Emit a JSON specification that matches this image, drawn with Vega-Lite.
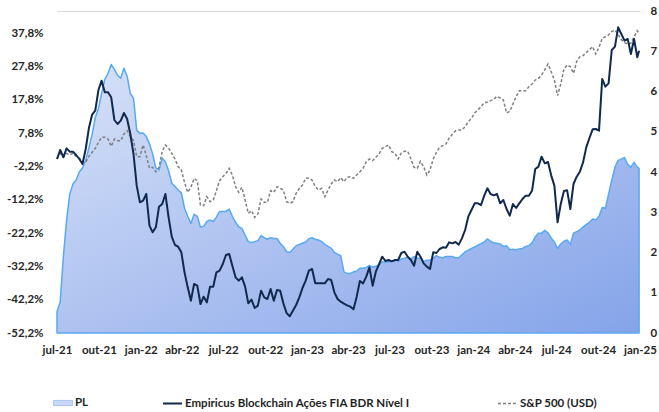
{
  "$schema": "https://vega.github.io/schema/vega-lite/v6.json",
  "width": 583,
  "height": 322,
  "autosize": {"type": "none"},
  "padding": {"left": 57, "top": 11, "right": 19, "bottom": 79},
  "background": "white",
  "config": {
    "view": {"stroke": null},
    "font": "Lato",
    "axis": {"labelFont": "Lato", "labelFontWeight": "bold", "labelFontSize": 11.5, "labelColor": "#262626", "domain": false, "ticks": false, "tickSize": 0, "grid": false, "title": null, "labelFlush": false, "labelOverlap": false},
    "legend": {"labelFont": "Lato", "labelFontWeight": "bold", "labelFontSize": 11.5, "labelColor": "#1f1f1f", "padding": 0, "title": null, "orient": "none", "labelOffset": 2, "labelLimit": 400}
  },
  "data": {"values": [
    {"d":"2021-07-01","fund":0.0,"sp":0.0,"pl":0.53},
    {"d":"2021-07-08","fund":2.7,"sp":1.7,"pl":0.78},
    {"d":"2021-07-15","fund":0.5,"sp":0.7,"pl":1.9},
    {"d":"2021-07-22","fund":3.2,"sp":1.7,"pl":2.8},
    {"d":"2021-07-29","fund":2.2,"sp":1.2,"pl":3.45},
    {"d":"2021-08-05","fund":2.2,"sp":1.7,"pl":3.7},
    {"d":"2021-08-12","fund":1.2,"sp":0.8,"pl":3.8},
    {"d":"2021-08-19","fund":0.0,"sp":0.3,"pl":4.0},
    {"d":"2021-08-26","fund":-1.5,"sp":-1.0,"pl":4.1},
    {"d":"2021-09-02","fund":3.0,"sp":-1.0,"pl":4.3},
    {"d":"2021-09-09","fund":9.2,"sp":0.8,"pl":4.6},
    {"d":"2021-09-16","fund":13.3,"sp":2.0,"pl":4.93},
    {"d":"2021-09-23","fund":14.5,"sp":3.2,"pl":5.35},
    {"d":"2021-09-30","fund":20.7,"sp":5.0,"pl":5.58},
    {"d":"2021-10-07","fund":23.5,"sp":6.5,"pl":5.95},
    {"d":"2021-10-14","fund":20.0,"sp":6.5,"pl":6.3},
    {"d":"2021-10-21","fund":20.0,"sp":6.0,"pl":6.45},
    {"d":"2021-10-28","fund":18.5,"sp":3.8,"pl":6.67},
    {"d":"2021-11-04","fund":11.7,"sp":6.0,"pl":6.55},
    {"d":"2021-11-11","fund":10.5,"sp":5.5,"pl":6.4},
    {"d":"2021-11-18","fund":11.5,"sp":5.5,"pl":6.33},
    {"d":"2021-11-25","fund":13.8,"sp":7.5,"pl":6.58},
    {"d":"2021-12-02","fund":12.0,"sp":8.5,"pl":6.38},
    {"d":"2021-12-09","fund":7.5,"sp":6.7,"pl":5.95},
    {"d":"2021-12-16","fund":1.5,"sp":5.5,"pl":5.83},
    {"d":"2021-12-23","fund":-8.0,"sp":0.7,"pl":5.04},
    {"d":"2021-12-30","fund":-13.0,"sp":0.7,"pl":4.96},
    {"d":"2022-01-06","fund":-12.5,"sp":4.2,"pl":4.97},
    {"d":"2022-01-13","fund":-10.5,"sp":1.0,"pl":4.88},
    {"d":"2022-01-20","fund":-20.0,"sp":-2.7,"pl":4.7},
    {"d":"2022-01-27","fund":-22.0,"sp":-2.5,"pl":4.45},
    {"d":"2022-02-03","fund":-20.5,"sp":-3.8,"pl":4.1},
    {"d":"2022-02-10","fund":-14.3,"sp":-2.5,"pl":4.05},
    {"d":"2022-02-17","fund":-13.5,"sp":2.3,"pl":4.35},
    {"d":"2022-02-24","fund":-10.5,"sp":4.2,"pl":4.25},
    {"d":"2022-03-03","fund":-17.5,"sp":3.3,"pl":4.03},
    {"d":"2022-03-10","fund":-23.3,"sp":1.7,"pl":3.72},
    {"d":"2022-03-17","fund":-25.8,"sp":0.0,"pl":3.64},
    {"d":"2022-03-24","fund":-26.3,"sp":-2.3,"pl":3.55},
    {"d":"2022-03-31","fund":-28.0,"sp":-3.3,"pl":3.48},
    {"d":"2022-04-07","fund":-34.0,"sp":-7.0,"pl":3.1},
    {"d":"2022-04-14","fund":-38.5,"sp":-10.0,"pl":2.9},
    {"d":"2022-04-21","fund":-42.5,"sp":-8.5,"pl":2.72},
    {"d":"2022-04-28","fund":-37.5,"sp":-5.8,"pl":2.95},
    {"d":"2022-05-05","fund":-38.0,"sp":-6.5,"pl":2.9},
    {"d":"2022-05-12","fund":-43.5,"sp":-13.8,"pl":2.63},
    {"d":"2022-05-19","fund":-41.3,"sp":-14.0,"pl":2.65},
    {"d":"2022-05-26","fund":-43.0,"sp":-11.3,"pl":2.77},
    {"d":"2022-06-02","fund":-38.3,"sp":-12.8,"pl":2.81},
    {"d":"2022-06-09","fund":-38.3,"sp":-12.3,"pl":2.77},
    {"d":"2022-06-16","fund":-34.0,"sp":-9.5,"pl":2.88},
    {"d":"2022-06-23","fund":-33.5,"sp":-6.5,"pl":3.02},
    {"d":"2022-06-30","fund":-31.5,"sp":-5.3,"pl":3.02},
    {"d":"2022-07-07","fund":-28.8,"sp":-4.3,"pl":3.02},
    {"d":"2022-07-14","fund":-28.5,"sp":-2.8,"pl":3.08},
    {"d":"2022-07-21","fund":-32.0,"sp":-4.8,"pl":2.9},
    {"d":"2022-07-28","fund":-35.5,"sp":-8.3,"pl":2.75},
    {"d":"2022-08-04","fund":-36.5,"sp":-10.0,"pl":2.64},
    {"d":"2022-08-11","fund":-35.5,"sp":-8.5,"pl":2.6},
    {"d":"2022-08-18","fund":-38.3,"sp":-12.3,"pl":2.43},
    {"d":"2022-08-25","fund":-43.3,"sp":-16.3,"pl":2.27},
    {"d":"2022-09-01","fund":-42.2,"sp":-15.5,"pl":2.25},
    {"d":"2022-09-08","fund":-44.7,"sp":-17.5,"pl":2.27},
    {"d":"2022-09-15","fund":-44.0,"sp":-16.5,"pl":2.29},
    {"d":"2022-09-22","fund":-39.5,"sp":-12.0,"pl":2.42},
    {"d":"2022-09-29","fund":-41.5,"sp":-13.0,"pl":2.37},
    {"d":"2022-10-06","fund":-42.0,"sp":-13.0,"pl":2.33},
    {"d":"2022-10-13","fund":-39.0,"sp":-9.5,"pl":2.37},
    {"d":"2022-10-20","fund":-42.5,"sp":-10.0,"pl":2.35},
    {"d":"2022-10-27","fund":-39.3,"sp":-8.3,"pl":2.35},
    {"d":"2022-11-03","fund":-39.5,"sp":-8.8,"pl":2.23},
    {"d":"2022-11-10","fund":-43.3,"sp":-9.3,"pl":2.15},
    {"d":"2022-11-17","fund":-46.2,"sp":-12.8,"pl":2.02},
    {"d":"2022-11-24","fund":-47.2,"sp":-13.3,"pl":2.0},
    {"d":"2022-12-01","fund":-45.5,"sp":-12.8,"pl":2.08},
    {"d":"2022-12-08","fund":-43.8,"sp":-10.3,"pl":2.17},
    {"d":"2022-12-15","fund":-41.5,"sp":-8.8,"pl":2.2},
    {"d":"2022-12-22","fund":-38.7,"sp":-7.8,"pl":2.23},
    {"d":"2022-12-29","fund":-36.5,"sp":-5.8,"pl":2.26},
    {"d":"2023-01-05","fund":-33.5,"sp":-5.7,"pl":2.34},
    {"d":"2023-01-12","fund":-33.0,"sp":-6.3,"pl":2.37},
    {"d":"2023-01-19","fund":-37.3,"sp":-8.3,"pl":2.33},
    {"d":"2023-01-26","fund":-37.3,"sp":-9.3,"pl":2.31},
    {"d":"2023-02-02","fund":-37.3,"sp":-8.8,"pl":2.27},
    {"d":"2023-02-09","fund":-37.3,"sp":-11.3,"pl":2.2},
    {"d":"2023-02-16","fund":-36.0,"sp":-9.3,"pl":2.15},
    {"d":"2023-02-23","fund":-36.3,"sp":-7.5,"pl":2.11},
    {"d":"2023-03-02","fund":-40.0,"sp":-6.3,"pl":2.0},
    {"d":"2023-03-09","fund":-42.0,"sp":-6.8,"pl":1.96},
    {"d":"2023-03-16","fund":-42.8,"sp":-5.6,"pl":1.92},
    {"d":"2023-03-23","fund":-43.4,"sp":-6.8,"pl":1.52},
    {"d":"2023-03-30","fund":-43.9,"sp":-5.5,"pl":1.48},
    {"d":"2023-04-06","fund":-44.3,"sp":-5.3,"pl":1.48},
    {"d":"2023-04-13","fund":-45.1,"sp":-5.8,"pl":1.52},
    {"d":"2023-04-20","fund":-41.3,"sp":-4.8,"pl":1.54},
    {"d":"2023-04-27","fund":-36.6,"sp":-3.8,"pl":1.61},
    {"d":"2023-05-04","fund":-37.3,"sp":-2.8,"pl":1.61},
    {"d":"2023-05-11","fund":-35.3,"sp":-0.8,"pl":1.63},
    {"d":"2023-05-18","fund":-32.5,"sp":0.0,"pl":1.68},
    {"d":"2023-05-25","fund":-38.0,"sp":-0.5,"pl":1.64},
    {"d":"2023-06-01","fund":-33.8,"sp":0.5,"pl":1.66},
    {"d":"2023-06-08","fund":-31.6,"sp":1.5,"pl":1.7},
    {"d":"2023-06-15","fund":-29.3,"sp":3.2,"pl":1.77},
    {"d":"2023-06-22","fund":-30.6,"sp":3.7,"pl":1.76},
    {"d":"2023-06-29","fund":-30.3,"sp":4.2,"pl":1.77},
    {"d":"2023-07-06","fund":-30.7,"sp":2.2,"pl":1.78},
    {"d":"2023-07-13","fund":-30.3,"sp":1.7,"pl":1.81},
    {"d":"2023-07-20","fund":-30.3,"sp":0.0,"pl":1.78},
    {"d":"2023-07-27","fund":-28.2,"sp":1.8,"pl":1.84},
    {"d":"2023-08-03","fund":-27.8,"sp":2.3,"pl":1.86},
    {"d":"2023-08-10","fund":-29.3,"sp":2.3,"pl":1.88},
    {"d":"2023-08-17","fund":-30.3,"sp":0.0,"pl":1.84},
    {"d":"2023-08-24","fund":-32.0,"sp":-2.5,"pl":1.9},
    {"d":"2023-08-31","fund":-27.8,"sp":-2.8,"pl":1.86},
    {"d":"2023-09-07","fund":-29.3,"sp":-0.7,"pl":1.86},
    {"d":"2023-09-14","fund":-31.3,"sp":-2.3,"pl":1.78},
    {"d":"2023-09-21","fund":-32.3,"sp":-4.8,"pl":1.81},
    {"d":"2023-09-28","fund":-33.0,"sp":-3.3,"pl":1.81},
    {"d":"2023-10-05","fund":-28.0,"sp":0.0,"pl":1.86},
    {"d":"2023-10-12","fund":-28.2,"sp":2.0,"pl":1.92},
    {"d":"2023-10-19","fund":-27.0,"sp":3.5,"pl":1.88},
    {"d":"2023-10-26","fund":-26.5,"sp":4.0,"pl":1.87},
    {"d":"2023-11-02","fund":-26.6,"sp":4.5,"pl":1.9},
    {"d":"2023-11-09","fund":-25.0,"sp":6.3,"pl":1.9},
    {"d":"2023-11-16","fund":-25.3,"sp":7.4,"pl":1.9},
    {"d":"2023-11-23","fund":-24.9,"sp":8.5,"pl":1.87},
    {"d":"2023-11-30","fund":-25.7,"sp":8.7,"pl":1.87},
    {"d":"2023-12-07","fund":-23.8,"sp":8.7,"pl":1.94},
    {"d":"2023-12-14","fund":-21.3,"sp":9.7,"pl":2.02},
    {"d":"2023-12-21","fund":-17.3,"sp":11.2,"pl":2.06},
    {"d":"2023-12-28","fund":-15.3,"sp":12.2,"pl":2.1},
    {"d":"2024-01-04","fund":-13.3,"sp":13.8,"pl":2.14},
    {"d":"2024-01-11","fund":-13.3,"sp":14.7,"pl":2.18},
    {"d":"2024-01-18","fund":-13.8,"sp":15.7,"pl":2.22},
    {"d":"2024-01-25","fund":-11.0,"sp":16.9,"pl":2.26},
    {"d":"2024-02-01","fund":-8.8,"sp":17.0,"pl":2.34},
    {"d":"2024-02-08","fund":-10.5,"sp":17.5,"pl":2.28},
    {"d":"2024-02-15","fund":-10.9,"sp":17.9,"pl":2.24},
    {"d":"2024-02-22","fund":-10.5,"sp":18.8,"pl":2.23},
    {"d":"2024-02-29","fund":-13.3,"sp":18.3,"pl":2.21},
    {"d":"2024-03-07","fund":-12.3,"sp":17.7,"pl":2.15},
    {"d":"2024-03-14","fund":-15.0,"sp":13.8,"pl":2.17},
    {"d":"2024-03-21","fund":-17.0,"sp":14.3,"pl":2.07},
    {"d":"2024-03-28","fund":-13.5,"sp":16.5,"pl":2.08},
    {"d":"2024-04-04","fund":-14.7,"sp":18.7,"pl":2.07},
    {"d":"2024-04-11","fund":-13.3,"sp":20.5,"pl":2.09},
    {"d":"2024-04-18","fund":-12.0,"sp":20.5,"pl":2.1},
    {"d":"2024-04-25","fund":-11.0,"sp":20.5,"pl":2.15},
    {"d":"2024-05-02","fund":-11.0,"sp":21.7,"pl":2.17},
    {"d":"2024-05-09","fund":-9.5,"sp":22.5,"pl":2.24},
    {"d":"2024-05-16","fund":-3.0,"sp":23.7,"pl":2.39},
    {"d":"2024-05-23","fund":-2.3,"sp":24.2,"pl":2.48},
    {"d":"2024-05-30","fund":0.7,"sp":25.2,"pl":2.48},
    {"d":"2024-06-06","fund":-1.3,"sp":26.8,"pl":2.55},
    {"d":"2024-06-13","fund":-0.9,"sp":28.5,"pl":2.49},
    {"d":"2024-06-20","fund":-4.9,"sp":26.2,"pl":2.36},
    {"d":"2024-06-27","fund":-8.0,"sp":23.7,"pl":2.26},
    {"d":"2024-07-04","fund":-19.0,"sp":19.0,"pl":2.1},
    {"d":"2024-07-11","fund":-13.5,"sp":22.5,"pl":2.21},
    {"d":"2024-07-18","fund":-9.6,"sp":27.0,"pl":2.28},
    {"d":"2024-07-25","fund":-9.4,"sp":28.2,"pl":2.31},
    {"d":"2024-08-01","fund":-15.0,"sp":27.7,"pl":2.2},
    {"d":"2024-08-08","fund":-7.5,"sp":25.7,"pl":2.48},
    {"d":"2024-08-15","fund":-5.3,"sp":29.2,"pl":2.52},
    {"d":"2024-08-22","fund":-3.8,"sp":30.7,"pl":2.56},
    {"d":"2024-08-29","fund":-1.0,"sp":31.0,"pl":2.63},
    {"d":"2024-09-05","fund":3.5,"sp":31.9,"pl":2.7},
    {"d":"2024-09-12","fund":6.3,"sp":32.8,"pl":2.75},
    {"d":"2024-09-19","fund":8.9,"sp":33.7,"pl":2.83},
    {"d":"2024-09-26","fund":9.0,"sp":31.5,"pl":2.81},
    {"d":"2024-10-03","fund":8.5,"sp":33.5,"pl":2.9},
    {"d":"2024-10-10","fund":24.0,"sp":36.2,"pl":3.12},
    {"d":"2024-10-17","fund":21.7,"sp":36.7,"pl":3.1},
    {"d":"2024-10-24","fund":22.7,"sp":37.2,"pl":3.45},
    {"d":"2024-10-31","fund":32.7,"sp":38.2,"pl":3.8},
    {"d":"2024-11-07","fund":33.7,"sp":38.7,"pl":4.12},
    {"d":"2024-11-14","fund":39.5,"sp":37.3,"pl":4.29},
    {"d":"2024-11-21","fund":37.5,"sp":35.8,"pl":4.32},
    {"d":"2024-11-28","fund":35.5,"sp":34.9,"pl":4.36},
    {"d":"2024-12-05","fund":36.0,"sp":34.5,"pl":4.19},
    {"d":"2024-12-12","fund":31.5,"sp":34.7,"pl":4.12},
    {"d":"2024-12-19","fund":36.0,"sp":36.6,"pl":4.24},
    {"d":"2024-12-26","fund":30.5,"sp":38.5,"pl":4.12},
    {"d":"2024-12-30","fund":32.5,"sp":37.7,"pl":4.09}
  ]},
  "encoding": {
    "x": {
      "field": "d", "type": "temporal",
      "scale": {"domain": [{"year": 2021, "month": 7, "date": 1}, {"year": 2025, "month": 1, "date": 1}]},
      "axis": {
        "values": [
          {"year": 2021, "month": 7, "date": 1}, {"year": 2021, "month": 10, "date": 1},
          {"year": 2022, "month": 1, "date": 1}, {"year": 2022, "month": 4, "date": 1},
          {"year": 2022, "month": 7, "date": 1}, {"year": 2022, "month": 10, "date": 1},
          {"year": 2023, "month": 1, "date": 1}, {"year": 2023, "month": 4, "date": 1},
          {"year": 2023, "month": 7, "date": 1}, {"year": 2023, "month": 10, "date": 1},
          {"year": 2024, "month": 1, "date": 1}, {"year": 2024, "month": 4, "date": 1},
          {"year": 2024, "month": 7, "date": 1}, {"year": 2024, "month": 10, "date": 1},
          {"year": 2025, "month": 1, "date": 1}
        ],
        "labelExpr": "['jan','fev','mar','abr','mai','jun','jul','ago','set','out','nov','dez'][month(datum.value)] + '-' + timeFormat(datum.value, '%y')",
        "labelPadding": 11
      }
    }
  },
  "layer": [
    {
      "mark": {
        "type": "area",
        "fill": {"gradient": "linear", "x1": 0, "y1": 0, "x2": 1, "y2": 1, "stops": [{"offset": 0, "color": "#d8e2f8"}, {"offset": 1, "color": "#84a3e9"}]},
        "stroke": "#59a9f2", "strokeWidth": 1.5, "strokeJoin": "round"
      },
      "encoding": {
        "y": {
          "field": "pl", "type": "quantitative",
          "scale": {"domain": [0, 8], "nice": false},
          "axis": {
            "orient": "right", "values": [0, 1, 2, 3, 4, 5, 6, 7, 8], "format": "d", "labelPadding": 10,
            "grid": true, "gridWidth": 1,
            "gridColor": {"condition": {"test": "datum.value == 8", "value": "#d9d9d9"}, "value": "transparent"}
          }
        }
      }
    },
    {
      "transform": [{"filter": "false"}],
      "mark": {"type": "square"},
      "encoding": {
        "fill": {
          "datum": "PL",
          "scale": {"domain": ["PL"], "range": ["#b5c8f3"]},
          "legend": {
            "orient": "none", "legendX": -4, "legendY": 382,
            "symbolType": "M-1,-0.27H1V0.27H-1Z", "symbolSize": 361,
            "symbolStrokeColor": "#7fb0ee", "symbolStrokeWidth": 1,
            "encode": {"symbols": {"update": {"fill": {"value": {"gradient": "linear", "x1": 0, "y1": 0, "x2": 1, "y2": 1, "stops": [{"offset": 0, "color": "#dbe4f9"}, {"offset": 1, "color": "#a3b9ef"}]}}}}}
          }
        }
      }
    },
    {
      "encoding": {
        "y": {
          "type": "quantitative",
          "scale": {"domain": [-52.2, 44.4], "nice": false, "zero": false},
          "axis": {
            "orient": "left",
            "values": [-52.2, -42.2, -32.2, -22.2, -12.2, -2.2, 7.8, 17.8, 27.8, 37.8],
            "labelExpr": "(datum.value < 0 ? '-' : '') + replace(format(abs(datum.value), '.1f'), '.', ',') + '%'",
            "labelPadding": 14
          }
        }
      },
      "layer": [
        {
          "mark": {"type": "line", "strokeDash": [3, 2], "strokeWidth": 1.5, "color": "#808080"},
          "encoding": {
            "y": {
              "field": "sp", "type": "quantitative",
              "scale": {"domain": [-52.2, 44.4], "nice": false, "zero": false},
              "axis": {
                "orient": "left",
                "values": [-52.2, -42.2, -32.2, -22.2, -12.2, -2.2, 7.8, 17.8, 27.8, 37.8],
                "labelExpr": "(datum.value < 0 ? '-' : '') + replace(format(abs(datum.value), '.1f'), '.', ',') + '%'",
                "labelPadding": 14
              }
            },
            "strokeDash": {
              "datum": "S&P 500 (USD)",
              "scale": {"domain": ["S&P 500 (USD)"], "range": [[3, 2]]},
              "legend": {
                "orient": "none", "legendX": 440, "legendY": 382,
                "symbolType": "stroke", "symbolSize": 361, "symbolStrokeWidth": 1.5, "symbolStrokeColor": "#808080"
              }
            }
          }
        },
        {
          "mark": {"type": "line", "strokeWidth": 2, "strokeJoin": "round"},
          "encoding": {
            "y": {
              "field": "fund", "type": "quantitative",
              "scale": {"domain": [-52.2, 44.4], "nice": false, "zero": false},
              "axis": {
                "orient": "left",
                "values": [-52.2, -42.2, -32.2, -22.2, -12.2, -2.2, 7.8, 17.8, 27.8, 37.8],
                "labelExpr": "(datum.value < 0 ? '-' : '') + replace(format(abs(datum.value), '.1f'), '.', ',') + '%'",
                "labelPadding": 14
              }
            },
            "stroke": {
              "datum": "Empiricus Blockchain Ações FIA BDR Nível I",
              "scale": {"domain": ["Empiricus Blockchain Ações FIA BDR Nível I"], "range": ["#10294d"]},
              "legend": {
                "orient": "none", "legendX": 105, "legendY": 382,
                "symbolType": "stroke", "symbolSize": 361, "symbolStrokeWidth": 2
              }
            }
          }
        }
      ]
    }
  ],
  "resolve": {"scale": {"y": "independent"}}
}
